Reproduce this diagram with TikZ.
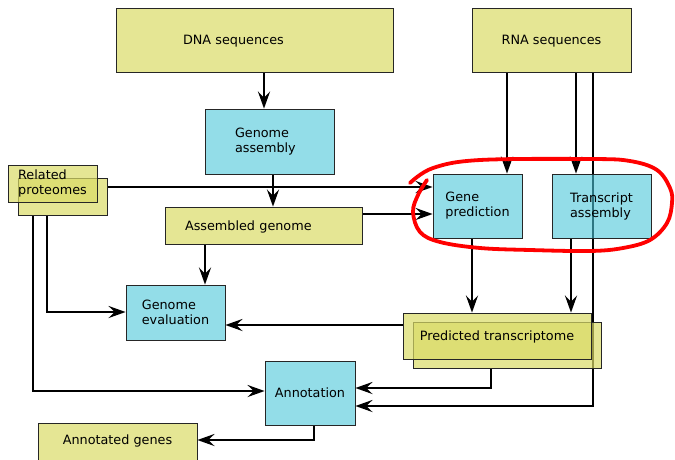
\documentclass[tikz,border=0pt]{standalone}
\usepackage{fontspec}
\setmainfont{DejaVu Sans}
\usetikzlibrary{arrows.meta}
\pgfdeclarelayer{bg}
\pgfsetlayers{bg,main}
\definecolor{yel}{RGB}{218,219,102}
\definecolor{cy}{RGB}{75,198,217}
\begin{document}
\begin{tikzpicture}[x=1pt,y=-1pt,
  box/.style={draw=black!85, line width=0.8pt, inner sep=0pt, align=left, text opacity=1, font=\fontsize{12.8pt}{15pt}\selectfont},
  ybox/.style={box, fill=yel, fill opacity=0.7},
  cbox/.style={box, fill=cy, fill opacity=0.6},
  oneline/.style={text height=9.5pt, text depth=0pt},
  arr/.style={line width=2.7pt, -{Stealth[length=17pt,width=12pt,inset=6pt]}},
  redmark/.style={draw=red, line width=3.8pt, line cap=round, line join=round}
]
\useasboundingbox (0,0) rectangle (675,459);

% nodes
\node[ybox, oneline, minimum height=64pt, text width=143pt, inner xsep=67pt] (dna) at (254.5,40) {DNA sequences};
\node[ybox, oneline, minimum width=159pt, minimum height=64pt] (rna) at (551.5,40) {RNA sequences};
\node[cbox, minimum height=65pt, text width=69pt, inner xsep=30pt] (gasm) at (269.5,141.5) {Genome\\assembly};
\node[ybox, minimum width=89pt, minimum height=37pt] (protb) at (62.5,196.5) {};
\node[ybox, minimum width=89pt, minimum height=37pt] (prot) at (52.5,183.5) {Related\\proteomes};
\node[ybox, oneline, minimum height=37pt, text width=157pt, inner xsep=20pt] (ag) at (263.5,225.5) {Assembled genome};
\node[cbox, minimum width=89pt, minimum height=64pt] (gp) at (477.5,206) {Gene\\prediction};
\node[cbox, minimum width=99pt, minimum height=64pt] (ta) at (601.5,206) {Transcript\\assembly};
\node[cbox, minimum width=99pt, minimum height=55pt] (ge) at (175.5,312.5) {Genome\\evaluation};
\node[ybox, minimum width=188pt, minimum height=46pt] (ptb) at (507,345) {};
\node[ybox, oneline, minimum width=188pt, minimum height=46pt] (pt) at (497,336) {Predicted transcriptome};
\node[cbox, oneline, minimum width=90pt, minimum height=64pt] (ann) at (310,393) {Annotation};
\node[ybox, anchor=north, minimum width=159pt, text height=9.5pt, text depth=10pt, inner ysep=12pt] (agn) at (117.5,423) {Annotated genes};

% connectors
\begin{pgfonlayer}{bg}
\draw[arr] (dna.south -| 264,0) -- (gasm.north -| 264,0);
\draw[arr] (gasm.south -| 273,0) -- (ag.north -| 273,0);
\draw[arr] (protb.east |- 0,187) -- (gp.west |- 0,187);
\draw[arr] (ag.east |- 0,214) -- (gp.west |- 0,214);
\draw[arr] (ag.south -| 205,0) -- (ge.north -| 205,0);
\draw[arr] (protb.south -| 47,0) |- (ge.west |- 0,312);
\draw[arr] (protb.south -| 33,0) |- (ann.west |- 0,391);
\draw[arr] (pt.west |- 0,325) -- (ge.east |- 0,325);
\draw[arr] (rna.south -| 507,0) -- (gp.north -| 507,0);
\draw[arr] (rna.south -| 576,0) -- (ta.north -| 576,0);
\draw[arr] (rna.south -| 593,0) |- (ann.east |- 0,406);
\draw[arr] (gp.south -| 472,0) -- (pt.north -| 472,0);
\draw[arr] (ta.south -| 571,0) -- (pt.north -| 571,0);
\draw[arr] (ptb.south -| 491,0) |- (ann.east |- 0,388);
\draw[arr] (ann.south -| 314,0) |- (agn.east |- 0,440);
\end{pgfonlayer}

% red hand-drawn loop
\draw[redmark] plot[smooth, tension=0.6] coordinates {(410,183) (433,168) (480,160) (590,159) (630,161) (657,170) (670,188) (672,203) (667,223) (650,240) (623,248) (590,251) (530,250) (480,248) (440,242) (420,232) (413,212) (418,195) (427,180)};
\end{tikzpicture}
\end{document}
